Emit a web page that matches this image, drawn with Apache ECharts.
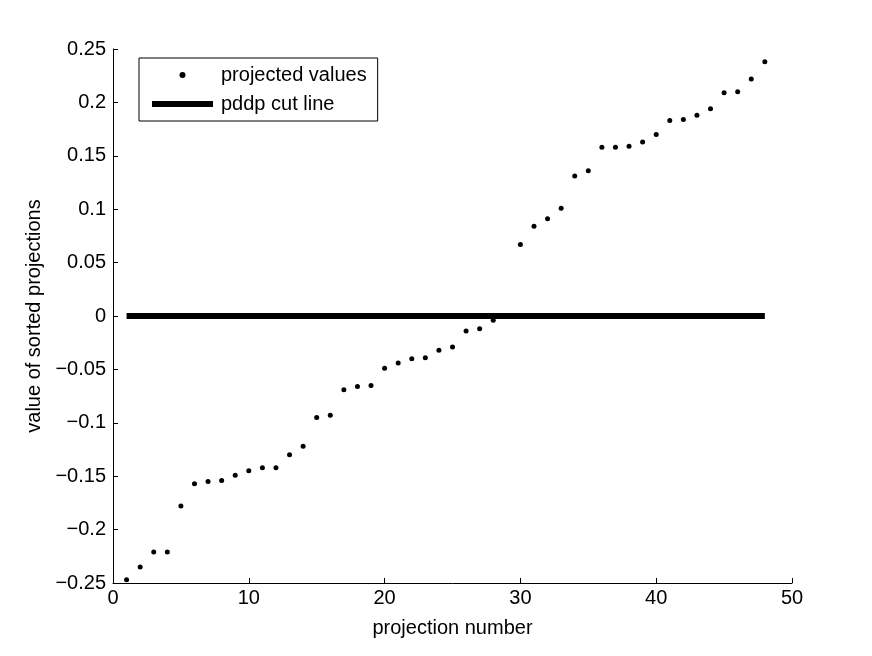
<!DOCTYPE html>
<html>
<head>
<meta charset="utf-8">
<script src="https://cdn.jsdelivr.net/npm/echarts@6/dist/echarts.min.js"></script>
<style>
  html, body { margin: 0; padding: 0; background: #fff; }
  #main { width: 872px; height: 656px; }
</style>
</head>
<body>
<div id="main"></div>
<script>
// projection index 1..48, sorted projected values
const projNumbers = [
  1, 2, 3, 4, 5, 6, 7, 8, 9, 10, 11, 12, 13, 14, 15, 16,
  17, 18, 19, 20, 21, 22, 23, 24, 25, 26, 27, 28, 29, 30, 31, 32,
  33, 34, 35, 36, 37, 38, 39, 40, 41, 42, 43, 44, 45, 46, 47, 48
];
const projValues = [
  -0.247, -0.235, -0.221, -0.221, -0.178, -0.157, -0.155, -0.154, -0.149, -0.145, -0.142, -0.142, -0.130, -0.122, -0.095, -0.093,
  -0.069, -0.066, -0.065, -0.049, -0.044, -0.040, -0.039, -0.032, -0.029, -0.014, -0.012, -0.004, 0.000, 0.067, 0.084, 0.091,
  0.101, 0.131, 0.136, 0.158, 0.158, 0.159, 0.163, 0.170, 0.183, 0.184, 0.188, 0.194, 0.209, 0.210, 0.222, 0.238
];
// cut line from first to last projection at 0
const cutX = [1, 48];
const cutY = [0, 0];

const FONT = 'Liberation Sans, Arial, Helvetica, sans-serif';
const FS = 20;

const chart = echarts.init(document.getElementById('main'));

const option = {
  backgroundColor: '#ffffff',
  animation: false,
  textStyle: { fontFamily: FONT, color: '#000' },
  grid: {
    left: 113,
    right: 80,
    top: 49,
    bottom: 73
  },
  legend: {
    left: 139,
    top: 58,
    orient: 'vertical',
    padding: [7, 11, 7, 13],
    itemGap: 9,
    itemWidth: 61,
    itemHeight: 6,
    borderColor: '#000',
    borderWidth: 1,
    backgroundColor: '#fff',
    textStyle: { fontFamily: FONT, fontSize: FS, color: '#000', padding: [0, 0, 0, 3] },
    data: [
      { name: 'projected values', icon: 'circle', itemStyle: { color: '#000', opacity: 1 } },
      { name: 'pddp cut line', icon: 'rect', itemStyle: { color: '#000' } }
    ]
  },
  xAxis: {
    type: 'value',
    min: 0,
    max: 50,
    interval: 10,
    name: 'projection number',
    nameLocation: 'middle',
    nameGap: 35,
    nameTextStyle: { fontFamily: FONT, fontSize: FS, color: '#000' },
    axisLine: { show: true, onZero: false, lineStyle: { color: '#000', width: 1 } },
    axisTick: { show: true, inside: true, length: 5, lineStyle: { color: '#000' } },
    axisLabel: { fontFamily: FONT, fontSize: FS, color: '#000', margin: 5 },
    splitLine: { show: false }
  },
  yAxis: {
    type: 'value',
    min: -0.25,
    max: 0.25,
    interval: 0.05,
    name: 'value of sorted projections',
    nameLocation: 'middle',
    nameGap: 69,
    nameTextStyle: { fontFamily: FONT, fontSize: FS, color: '#000' },
    axisLine: { show: true, onZero: false, lineStyle: { color: '#000', width: 1 } },
    axisTick: { show: true, inside: true, length: 5, lineStyle: { color: '#000' } },
    axisLabel: {
      fontFamily: FONT,
      fontSize: FS,
      color: '#000',
      margin: 7,
      formatter: function (v) {
        const r = Math.round(v * 100) / 100;
        return String(r).replace('-', '\u2212');
      }
    },
    splitLine: { show: false }
  },
  series: [
    {
      name: 'projected values',
      type: 'scatter',
      symbol: 'circle',
      symbolSize: 5,
      itemStyle: { color: '#000', opacity: 1 },
      z: 2,
      data: projNumbers.map((n, i) => [n, projValues[i]])
    },
    {
      name: 'pddp cut line',
      type: 'line',
      symbol: 'none',
      lineStyle: { color: '#000', width: 6, cap: 'butt' },
      itemStyle: { color: '#000' },
      z: 3,
      data: cutX.map((x, i) => [x, cutY[i]])
    }
  ]
};

chart.setOption(option);
</script>
</body>
</html>
